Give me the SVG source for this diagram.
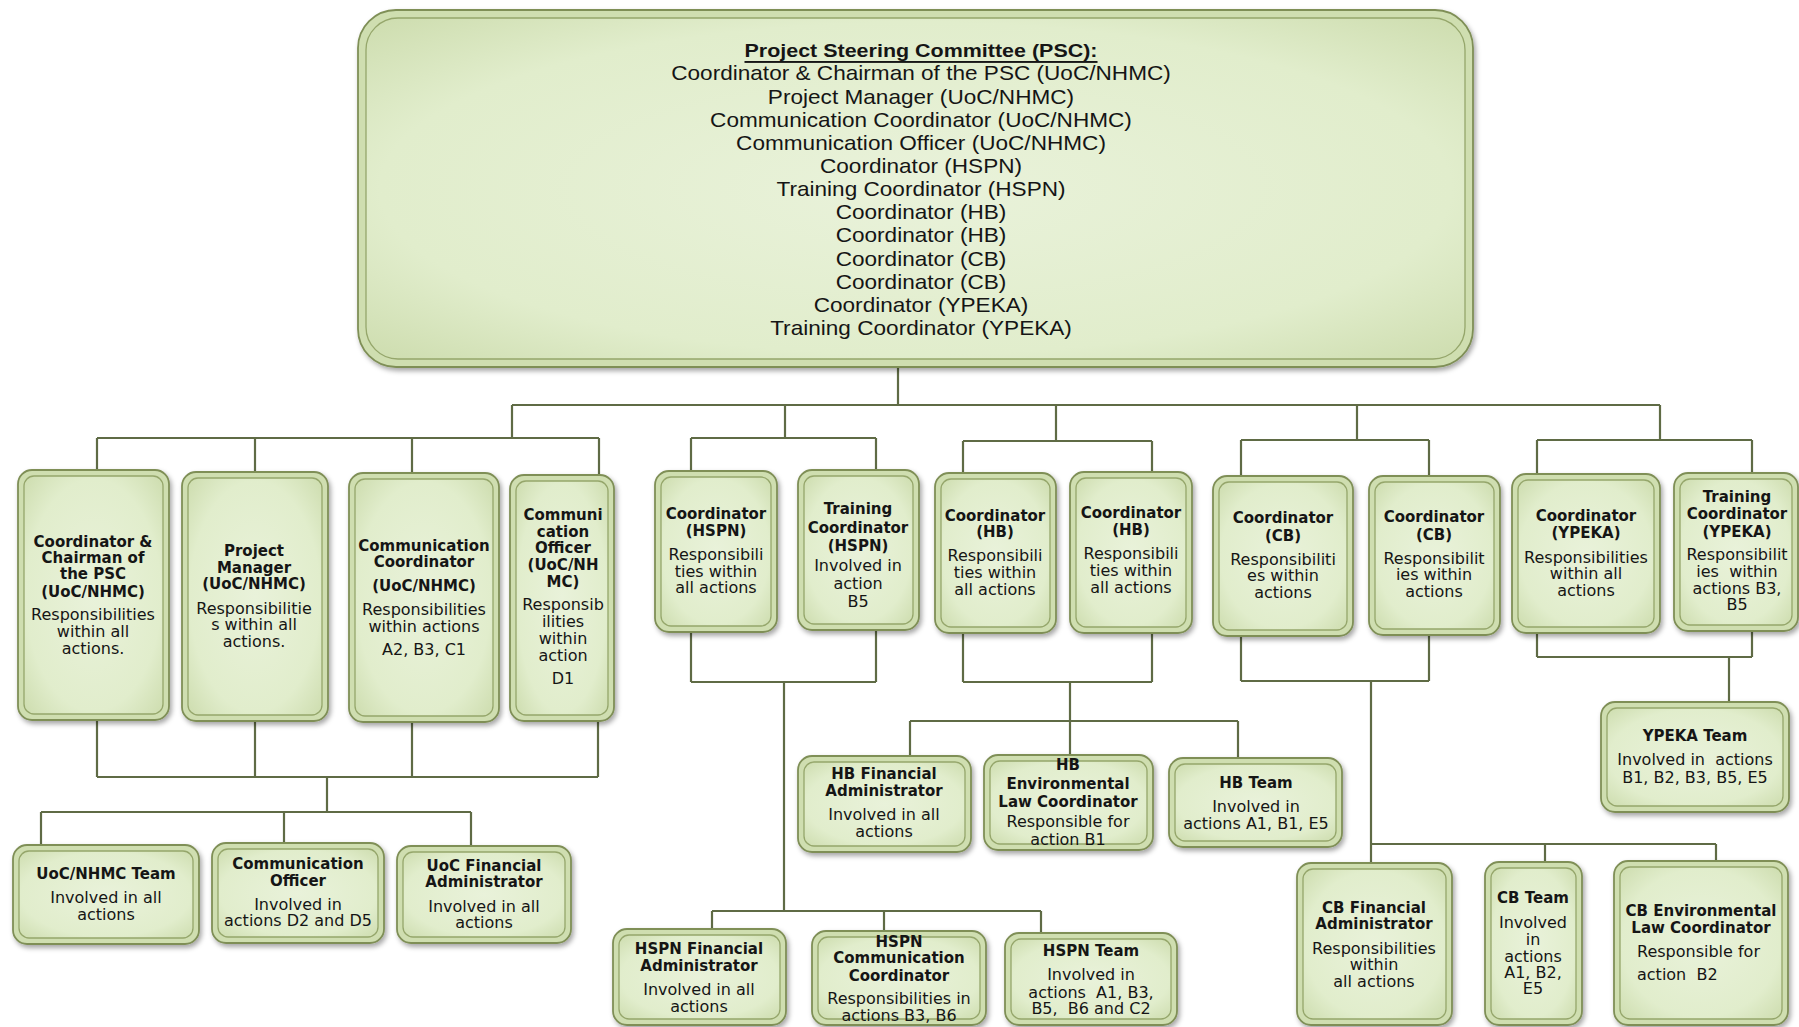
<svg xmlns="http://www.w3.org/2000/svg" width="1799" height="1027" viewBox="0 0 1799 1027">
<defs>
<radialGradient id="g" cx="0.5" cy="0.5" r="0.75">
<stop offset="0" stop-color="#e9f2da"/>
<stop offset="0.65" stop-color="#e1edcc"/>
<stop offset="1" stop-color="#c9d9a8"/>
</radialGradient>
<filter id="sh" x="-10%" y="-10%" width="130%" height="130%">
<feDropShadow dx="2" dy="3" stdDeviation="2.5" flood-color="#000" flood-opacity="0.35"/>
</filter>
</defs>
<style>
.o{fill:#cfdeb0;stroke:#7f8f57;stroke-width:1.8;filter:url(#sh)}
.i{fill:url(#g);stroke:#95a66b;stroke-width:1.3}
.c{fill:none;stroke:#5f6b45;stroke-width:2.2}
text{fill:#151515;text-anchor:middle;dominant-baseline:central;font-family:'DejaVu Sans','Liberation Sans',sans-serif}
.b{font-size:15px;font-weight:bold}
.n{font-size:16px}
.p{font-size:20px;font-family:'Liberation Sans',Arial,sans-serif}
.t{font-size:19px;font-weight:bold;text-decoration:underline;font-family:'Liberation Sans',Arial,sans-serif}
.l{text-anchor:start}
</style>
<rect width="1799" height="1027" fill="#fff"/>
<g id="connectors">
<path class="c" d="M898 368V405M512 405H1660M512 405V438M785 405V438M1056 405V441M1357 405V440M1660 405V440"/>
<path class="c" d="M97 438H599M97 438V470M255 438V472M412 438V473M599 438V475"/>
<path class="c" d="M691 438H876M691 438V471M876 438V470"/>
<path class="c" d="M963 441H1152M963 441V473M1152 441V472"/>
<path class="c" d="M1241 440H1429M1241 440V476M1429 440V476"/>
<path class="c" d="M1537 440H1752M1537 440V474M1752 440V473"/>
<path class="c" d="M97 720V777M255 721V777M412 722V777M598 721V777M97 777H598M327 777V812M41 812H471M41 812V845M284 812V843M471 812V846"/>
<path class="c" d="M691 632V682M876 630V682M691 682H876M784 682V911M712 911H1041M712 911V929M884 911V931M1041 911V933"/>
<path class="c" d="M963 633V682M1152 633V682M963 682H1152M1070 682V755M910 721H1238M910 721V756M1238 721V758"/>
<path class="c" d="M1241 636V681M1429 635V681M1241 681H1429M1371 681V863M1371 844H1716M1545 844V862M1716 844V861"/>
<path class="c" d="M1537 633V657M1752 631V657M1537 657H1752M1729 657V702"/>
</g>
<g id="psc">
<rect class="o" x="358" y="10" width="1115" height="357" rx="38"/>
<rect class="i" x="366" y="18" width="1099" height="341" rx="32"/>
<g transform="translate(921 0) scale(1.13 1)">
<text class="t" x="0" y="50.7">Project Steering Committee (PSC):</text>
<text class="p" x="0" y="73.8">Coordinator &amp; Chairman of the PSC (UoC/NHMC)</text>
<text class="p" x="0" y="97">Project Manager (UoC/NHMC)</text>
<text class="p" x="0" y="120.1">Communication Coordinator (UoC/NHMC)</text>
<text class="p" x="0" y="143.3">Communication Officer (UoC/NHMC)</text>
<text class="p" x="0" y="166.4">Coordinator (HSPN)</text>
<text class="p" x="0" y="189.5">Training Coordinator (HSPN)</text>
<text class="p" x="0" y="212.7">Coordinator (HB)</text>
<text class="p" x="0" y="235.8">Coordinator (HB)</text>
<text class="p" x="0" y="259">Coordinator (CB)</text>
<text class="p" x="0" y="282.1">Coordinator (CB)</text>
<text class="p" x="0" y="305.2">Coordinator (YPEKA)</text>
<text class="p" x="0" y="328.4">Training Coordinator (YPEKA)</text>
</g>
</g>
<g id="n-chairman">
<rect class="o" x="18" y="470" width="151" height="250" rx="14"/>
<rect class="i" x="24" y="476" width="139" height="238" rx="10"/>
<text class="b" x="93" y="542">Coordinator &amp;</text>
<text class="b" x="93" y="558">Chairman of</text>
<text class="b" x="93" y="574">the PSC</text>
<text class="b" x="93" y="592">(UoC/NHMC)</text>
<text class="n" x="93" y="614">Responsibilities</text>
<text class="n" x="93" y="631">within all</text>
<text class="n" x="93" y="648">actions.</text>
</g>
<g id="n-pm">
<rect class="o" x="182" y="472" width="146" height="249" rx="14"/>
<rect class="i" x="188" y="478" width="134" height="237" rx="10"/>
<text class="b" x="254" y="551">Project</text>
<text class="b" x="254" y="568">Manager</text>
<text class="b" x="254" y="584">(UoC/NHMC)</text>
<text class="n" x="254" y="608">Responsibilitie</text>
<text class="n" x="254" y="624">s within all</text>
<text class="n" x="254" y="641">actions.</text>
</g>
<g id="n-commcoord">
<rect class="o" x="349" y="473" width="150" height="249" rx="14"/>
<rect class="i" x="355" y="479" width="138" height="237" rx="10"/>
<text class="b" x="424" y="546">Communication</text>
<text class="b" x="424" y="562">Coordinator</text>
<text class="b" x="424" y="586">(UoC/NHMC)</text>
<text class="n" x="424" y="609">Responsibilities</text>
<text class="n" x="424" y="626">within actions</text>
<text class="n" x="424" y="649">A2, B3, C1</text>
</g>
<g id="n-commofficer">
<rect class="o" x="510" y="475" width="104" height="246" rx="14"/>
<rect class="i" x="516" y="481" width="92" height="234" rx="10"/>
<text class="b" x="563" y="515">Communi</text>
<text class="b" x="563" y="532">cation</text>
<text class="b" x="563" y="548">Officer</text>
<text class="b" x="563" y="565">(UoC/NH</text>
<text class="b" x="563" y="582">MC)</text>
<text class="n" x="563" y="604">Responsib</text>
<text class="n" x="563" y="621">ilities</text>
<text class="n" x="563" y="638">within</text>
<text class="n" x="563" y="655">action</text>
<text class="n" x="563" y="678">D1</text>
</g>
<g id="n-hspn-coord">
<rect class="o" x="655" y="471" width="122" height="161" rx="14"/>
<rect class="i" x="661" y="477" width="110" height="149" rx="10"/>
<text class="b" x="716" y="514">Coordinator</text>
<text class="b" x="716" y="531">(HSPN)</text>
<text class="n" x="716" y="554">Responsibili</text>
<text class="n" x="716" y="571">ties within</text>
<text class="n" x="716" y="587">all actions</text>
</g>
<g id="n-hspn-training">
<rect class="o" x="798" y="470" width="121" height="160" rx="14"/>
<rect class="i" x="804" y="476" width="109" height="148" rx="10"/>
<text class="b" x="858" y="509">Training</text>
<text class="b" x="858" y="528">Coordinator</text>
<text class="b" x="858" y="546">(HSPN)</text>
<text class="n" x="858" y="565">Involved in</text>
<text class="n" x="858" y="583">action</text>
<text class="n" x="858" y="601">B5</text>
</g>
<g id="n-hb-coord1">
<rect class="o" x="935" y="473" width="121" height="160" rx="14"/>
<rect class="i" x="941" y="479" width="109" height="148" rx="10"/>
<text class="b" x="995" y="516">Coordinator</text>
<text class="b" x="995" y="532">(HB)</text>
<text class="n" x="995" y="555">Responsibili</text>
<text class="n" x="995" y="572">ties within</text>
<text class="n" x="995" y="589">all actions</text>
</g>
<g id="n-hb-coord2">
<rect class="o" x="1070" y="472" width="122" height="161" rx="14"/>
<rect class="i" x="1076" y="478" width="110" height="149" rx="10"/>
<text class="b" x="1131" y="513">Coordinator</text>
<text class="b" x="1131" y="530">(HB)</text>
<text class="n" x="1131" y="553">Responsibili</text>
<text class="n" x="1131" y="570">ties within</text>
<text class="n" x="1131" y="587">all actions</text>
</g>
<g id="n-cb-coord1">
<rect class="o" x="1213" y="476" width="140" height="160" rx="14"/>
<rect class="i" x="1219" y="482" width="128" height="148" rx="10"/>
<text class="b" x="1283" y="518">Coordinator</text>
<text class="b" x="1283" y="536">(CB)</text>
<text class="n" x="1283" y="559">Responsibiliti</text>
<text class="n" x="1283" y="575">es within</text>
<text class="n" x="1283" y="592">actions</text>
</g>
<g id="n-cb-coord2">
<rect class="o" x="1369" y="476" width="131" height="159" rx="14"/>
<rect class="i" x="1375" y="482" width="119" height="147" rx="10"/>
<text class="b" x="1434" y="517">Coordinator</text>
<text class="b" x="1434" y="535">(CB)</text>
<text class="n" x="1434" y="558">Responsibilit</text>
<text class="n" x="1434" y="574">ies within</text>
<text class="n" x="1434" y="591">actions</text>
</g>
<g id="n-ypeka-coord">
<rect class="o" x="1512" y="474" width="148" height="159" rx="14"/>
<rect class="i" x="1518" y="480" width="136" height="147" rx="10"/>
<text class="b" x="1586" y="516">Coordinator</text>
<text class="b" x="1586" y="533">(YPEKA)</text>
<text class="n" x="1586" y="557">Responsibilities</text>
<text class="n" x="1586" y="573">within all</text>
<text class="n" x="1586" y="590">actions</text>
</g>
<g id="n-ypeka-training">
<rect class="o" x="1674" y="473" width="124" height="158" rx="14"/>
<rect class="i" x="1680" y="479" width="112" height="146" rx="10"/>
<text class="b" x="1737" y="497">Training</text>
<text class="b" x="1737" y="514">Coordinator</text>
<text class="b" x="1737" y="532">(YPEKA)</text>
<text class="n" x="1737" y="554">Responsibilit</text>
<text class="n" x="1737" y="571">ies&#160; within</text>
<text class="n" x="1737" y="588">actions B3,</text>
<text class="n" x="1737" y="604">B5</text>
</g>
<g id="n-uoc-team">
<rect class="o" x="13" y="845" width="186" height="99" rx="14"/>
<rect class="i" x="19" y="851" width="174" height="87" rx="10"/>
<text class="b" x="106" y="874">UoC/NHMC Team</text>
<text class="n" x="106" y="897">Involved in all</text>
<text class="n" x="106" y="914">actions</text>
</g>
<g id="n-uoc-commofficer">
<rect class="o" x="212" y="843" width="172" height="100" rx="14"/>
<rect class="i" x="218" y="849" width="160" height="88" rx="10"/>
<text class="b" x="298" y="864">Communication</text>
<text class="b" x="298" y="881">Officer</text>
<text class="n" x="298" y="904">Involved in</text>
<text class="n" x="298" y="920">actions D2 and D5</text>
</g>
<g id="n-uoc-fin">
<rect class="o" x="397" y="846" width="174" height="97" rx="14"/>
<rect class="i" x="403" y="852" width="162" height="85" rx="10"/>
<text class="b" x="484" y="866">UoC Financial</text>
<text class="b" x="484" y="882">Administrator</text>
<text class="n" x="484" y="906">Involved in all</text>
<text class="n" x="484" y="922">actions</text>
</g>
<g id="n-hb-fin">
<rect class="o" x="798" y="756" width="173" height="96" rx="14"/>
<rect class="i" x="804" y="762" width="161" height="84" rx="10"/>
<text class="b" x="884" y="774">HB Financial</text>
<text class="b" x="884" y="791">Administrator</text>
<text class="n" x="884" y="814">Involved in all</text>
<text class="n" x="884" y="831">actions</text>
</g>
<g id="n-hb-env">
<rect class="o" x="984" y="755" width="169" height="95" rx="14"/>
<rect class="i" x="990" y="761" width="157" height="83" rx="10"/>
<text class="b" x="1068" y="765">HB</text>
<text class="b" x="1068" y="784">Environmental</text>
<text class="b" x="1068" y="802">Law Coordinator</text>
<text class="n" x="1068" y="821">Responsible for</text>
<text class="n" x="1068" y="839">action B1</text>
</g>
<g id="n-hb-team">
<rect class="o" x="1169" y="758" width="173" height="89" rx="14"/>
<rect class="i" x="1175" y="764" width="161" height="77" rx="10"/>
<text class="b" x="1256" y="783">HB Team</text>
<text class="n" x="1256" y="806">Involved in</text>
<text class="n" x="1256" y="823">actions A1, B1, E5</text>
</g>
<g id="n-ypeka-team">
<rect class="o" x="1601" y="702" width="188" height="110" rx="14"/>
<rect class="i" x="1607" y="708" width="176" height="98" rx="10"/>
<text class="b" x="1695" y="736">YPEKA Team</text>
<text class="n" x="1695" y="759">Involved in&#160; actions</text>
<text class="n" x="1695" y="777">B1, B2, B3, B5, E5</text>
</g>
<g id="n-hspn-fin">
<rect class="o" x="613" y="929" width="173" height="96" rx="14"/>
<rect class="i" x="619" y="935" width="161" height="84" rx="10"/>
<text class="b" x="699" y="949">HSPN Financial</text>
<text class="b" x="699" y="966">Administrator</text>
<text class="n" x="699" y="989">Involved in all</text>
<text class="n" x="699" y="1006">actions</text>
</g>
<g id="n-hspn-comm">
<rect class="o" x="812" y="931" width="174" height="94" rx="14"/>
<rect class="i" x="818" y="937" width="162" height="82" rx="10"/>
<text class="b" x="899" y="942">HSPN</text>
<text class="b" x="899" y="958">Communication</text>
<text class="b" x="899" y="976">Coordinator</text>
<text class="n" x="899" y="998">Responsibilities in</text>
<text class="n" x="899" y="1015">actions B3, B6</text>
</g>
<g id="n-hspn-team">
<rect class="o" x="1005" y="933" width="172" height="92" rx="14"/>
<rect class="i" x="1011" y="939" width="160" height="80" rx="10"/>
<text class="b" x="1091" y="951">HSPN Team</text>
<text class="n" x="1091" y="974">Involved in</text>
<text class="n" x="1091" y="992">actions&#160; A1, B3,</text>
<text class="n" x="1091" y="1008">B5,&#160; B6 and C2</text>
</g>
<g id="n-cb-fin">
<rect class="o" x="1297" y="863" width="155" height="162" rx="14"/>
<rect class="i" x="1303" y="869" width="143" height="150" rx="10"/>
<text class="b" x="1374" y="908">CB Financial</text>
<text class="b" x="1374" y="924">Administrator</text>
<text class="n" x="1374" y="948">Responsibilities</text>
<text class="n" x="1374" y="964">within</text>
<text class="n" x="1374" y="981">all actions</text>
</g>
<g id="n-cb-team">
<rect class="o" x="1485" y="862" width="97" height="163" rx="14"/>
<rect class="i" x="1491" y="868" width="85" height="151" rx="10"/>
<text class="b" x="1533" y="898">CB Team</text>
<text class="n" x="1533" y="922">Involved</text>
<text class="n" x="1533" y="939">in</text>
<text class="n" x="1533" y="956">actions</text>
<text class="n" x="1533" y="972">A1, B2,</text>
<text class="n" x="1533" y="988">E5</text>
</g>
<g id="n-cb-env">
<rect class="o" x="1614" y="861" width="174" height="164" rx="14"/>
<rect class="i" x="1620" y="867" width="162" height="152" rx="10"/>
<text class="b" x="1701" y="911">CB Environmental</text>
<text class="b" x="1701" y="928">Law Coordinator</text>
<text class="n l" x="1637" y="951">Responsible for</text>
<text class="n l" x="1637" y="974">action&#160; B2</text>
</g>
</svg>
